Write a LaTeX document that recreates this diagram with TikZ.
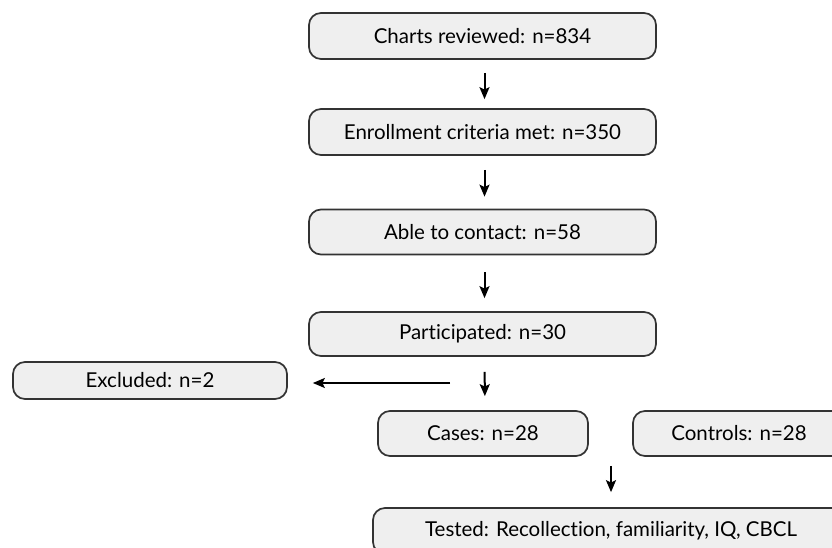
\documentclass[tikz,border=0pt]{standalone}
\usepackage{fontspec}
\setmainfont[Ligatures={NoCommon}]{Lato}
\usetikzlibrary{arrows.meta,calc}
\definecolor{boxfill}{HTML}{EFEFEF}
\definecolor{boxline}{HTML}{333333}
\tikzset{
  flowbox/.style={draw=boxline, line width=1.7pt, fill=boxfill, rounded corners=12pt,
    inner sep=0pt, font=\fontsize{20.5}{22}\selectfont, text=black},
  arr/.style={draw=black, line width=2pt, -{Stealth[length=12pt,width=10pt,inset=2.5pt]}}
}
\begin{document}
\begin{tikzpicture}[x=1pt,y=-1pt]
\clip (0,0) rectangle (832,548);
\fill[white] (0,0) rectangle (832,548);
\node[flowbox, minimum width=347pt, minimum height=46pt] (b1) at (482.5,36) {Charts reviewed: n=834};
\node[flowbox, minimum width=347pt, minimum height=46pt] (b2) at (482.5,132) {Enrollment criteria met: n=350};
\node[flowbox, minimum width=347pt, minimum height=45pt] (b3) at (482.5,232) {Able to contact: n=58};
\node[flowbox, minimum width=347pt, minimum height=44pt] (b4) at (482.5,334) {Participated: n=30};
\node[flowbox, minimum width=274pt, minimum height=37pt] (excl) at (150,380.5) {Excluded: n=2};
\node[flowbox, minimum width=210pt, minimum height=45pt] (cases) at (483,433.5) {Cases: n=28};
\node[flowbox, minimum width=212pt, minimum height=45pt] (ctrl) at (739,433.5) {Controls: n=28};
\node[flowbox, minimum width=476pt, minimum height=46pt] (tested) at (611,531) {Tested: Recollection, familiarity, IQ, CBCL};
\coordinate (split) at (450,383);
\coordinate (mid) at ($(cases.south)!0.5!(ctrl.south)$);
\draw[arr, shorten <=13pt, shorten >=9pt] ([xshift=2pt]b1.south) -- ([xshift=2pt]b2.north);
\draw[arr, shorten <=14pt, shorten >=12pt] ([xshift=2pt]b2.south) -- ([xshift=2pt]b3.north);
\draw[arr, shorten <=17pt, shorten >=13pt] ([xshift=2pt]b3.south) -- ([xshift=2pt]b4.north);
\draw[arr, shorten <=15pt, shorten >=14pt] ([xshift=2pt]b4.south) -- ([xshift=2pt]cases.north);
\draw[arr, shorten >=25pt] (split) -- (excl.east |- split);
\draw[arr, shorten <=9pt, shorten >=15pt] (mid) -- (tested.north -| mid);
\end{tikzpicture}
\end{document}
